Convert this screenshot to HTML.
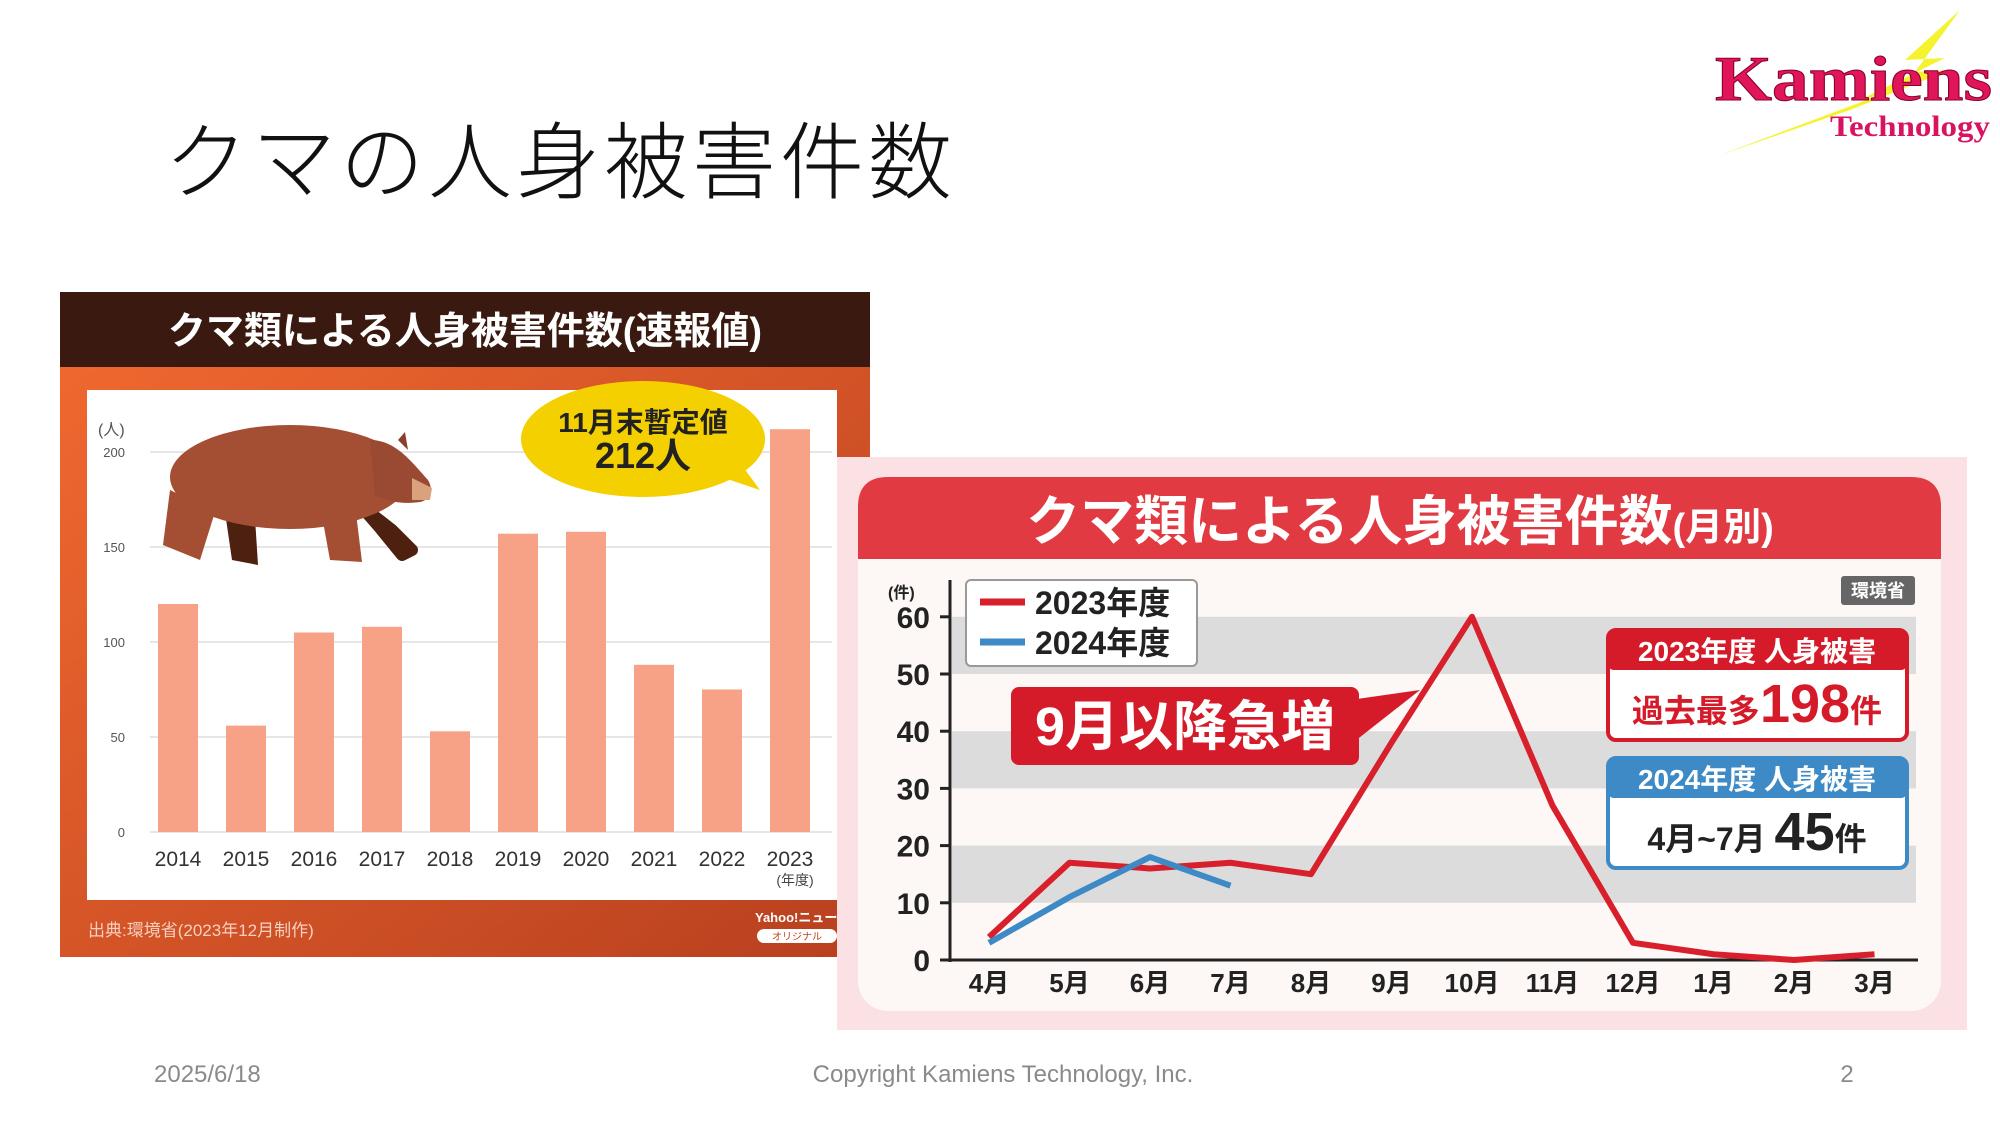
<!DOCTYPE html>
<html><head><meta charset="utf-8"><style>
html,body{margin:0;padding:0;background:#fff;}
svg{display:block;font-family:"Liberation Sans","Noto Sans CJK JP",sans-serif;}
</style></head><body>
<svg width="2000" height="1125" viewBox="0 0 2000 1125" xmlns="http://www.w3.org/2000/svg">
<text x="164" y="192" font-size="84" fill="#111" font-family="Liberation Sans,Noto Sans CJK JP,sans-serif" font-weight="300" letter-spacing="4">クマの人身被害件数</text>
<g>
<polygon points="1960,10 1905,60 1945,58 1860,100 1880,95 1720,155 1850,110 1830,118 1950,70 1915,72" fill="#f4f21a" opacity="0.9"/>
<text x="1715" y="100" font-size="64" font-weight="bold" font-family="Liberation Serif,serif" fill="#e0155a" stroke="#8a0030" stroke-width="1" textLength="277" lengthAdjust="spacingAndGlyphs">Kamiens</text>
<text x="1830" y="136" font-size="30" font-weight="bold" font-family="Liberation Serif,serif" fill="#d81462" textLength="160" lengthAdjust="spacingAndGlyphs">Technology</text>
</g>
<g id="left">
<defs><linearGradient id="og" x1="0" x2="1" y1="0" y2="1"><stop offset="0" stop-color="#f26a30"/><stop offset="1" stop-color="#b8401f"/></linearGradient></defs>
<rect x="60" y="292" width="810" height="665" fill="url(#og)"/>
<rect x="60" y="292" width="810" height="75" fill="#3a1a10"/>
<text x="465" y="344" font-size="38" font-weight="bold" fill="#fff" text-anchor="middle">クマ類による人身被害件数(速報値)</text>
<rect x="87" y="390" width="750" height="510" fill="#fff"/>
<text x="98" y="435" font-size="16" fill="#555">(人)</text>
<text x="88" y="936" font-size="17" fill="#f7d0c0">出典:環境省(2023年12月制作)</text>
<text x="755" y="922" font-size="13" font-weight="bold" fill="#fff">Yahoo!ニュース</text>
<rect x="757" y="929" width="80" height="14" rx="7" fill="#fff"/>
<text x="797" y="940" font-size="10" fill="#c04020" text-anchor="middle">オリジナル</text>
<g id="bgrid"></g><g id="bbars"></g>
<text x="795" y="885" font-size="14" fill="#444" text-anchor="middle">(年度)</text>
<g>
<path d="M225,512 L232,560 L258,565 L255,518 Z" fill="#4d2010"/>
<path d="M360,505 L392,530 L412,550 L402,555 L380,528 Z" fill="#4d2010" stroke="#4d2010" stroke-width="12" stroke-linejoin="round"/>
<ellipse cx="290" cy="477" rx="120" ry="52" fill="#a44e34"/>
<path d="M170,490 L163,545 L200,560 L215,512 Z" fill="#a44e34"/>
<path d="M320,505 L330,560 L362,562 L355,505 Z" fill="#a44e34"/>
<path d="M370,440 C395,440 410,460 428,480 C434,490 430,500 420,502 C400,505 385,500 375,495 Z" fill="#9a4a33"/>
<path d="M412,478 L432,488 L430,500 L412,500 Z" fill="#d9a27d"/>
<path d="M398,440 L405,432 L408,450 Z" fill="#8a4030"/>
</g>
<g>
<path d="M700,470 L760,490 L738,460 Z" fill="#f5d000"/>
<ellipse cx="643" cy="439" rx="122" ry="58" fill="#f5d000"/>
<text x="643" y="432" font-size="28" font-weight="bold" fill="#222" text-anchor="middle">11月末暫定値</text>
<text x="643" y="468" font-size="36" font-weight="bold" fill="#222" text-anchor="middle">212人</text>
</g>
</g>
<g id="right">
<rect x="837" y="457" width="1130" height="573" fill="#fbe1e4"/>
<rect x="858" y="477" width="1083" height="534" rx="30" fill="#fdf7f5"/>
<path d="M858,559 L858,507 Q858,477 888,477 L1911,477 Q1941,477 1941,507 L1941,559 Z" fill="#e23a42"/>
<text x="1400" y="540" font-size="54" font-weight="bold" fill="#fff" text-anchor="middle">クマ類による人身被害件数<tspan font-size="38">(月別)</tspan></text>
<g id="lgrid"></g>
<text x="888" y="598" font-size="16" font-weight="bold" fill="#222">(件)</text>
<rect x="1841" y="576" width="74" height="29" rx="3" fill="#666"/>
<text x="1878" y="597" font-size="18" font-weight="bold" fill="#fff" text-anchor="middle">環境省</text>
<g id="llines"></g>
<g>
<rect x="966" y="580" width="231" height="86" rx="5" fill="#fff" stroke="#999" stroke-width="2"/>
<line x1="980" y1="602" x2="1025" y2="602" stroke="#d8202d" stroke-width="7"/>
<text x="1035" y="614" font-size="32" font-weight="bold" fill="#222">2023年度</text>
<line x1="980" y1="642" x2="1025" y2="642" stroke="#3d8ac6" stroke-width="7"/>
<text x="1035" y="654" font-size="32" font-weight="bold" fill="#222">2024年度</text>
</g>
<g>
<path d="M1350,700 L1420,690 L1350,745 Z" fill="#d51b2a"/>
<rect x="1011" y="687" width="348" height="78" rx="8" fill="#d51b2a"/>
<text x="1185" y="745" font-size="54" font-weight="bold" fill="#fff" text-anchor="middle">9月以降急増</text>
</g>
<g>
<rect x="1608" y="630" width="299" height="110" rx="8" fill="#fff" stroke="#d51b2a" stroke-width="4"/>
<rect x="1608" y="630" width="299" height="40" rx="6" fill="#d51b2a"/>
<text x="1757" y="661" font-size="28" font-weight="bold" fill="#fff" text-anchor="middle">2023年度 人身被害</text>
<text x="1757" y="722" font-size="32" font-weight="bold" fill="#d51b2a" text-anchor="middle">過去最多<tspan font-size="54">198</tspan>件</text>
</g>
<g>
<rect x="1608" y="758" width="299" height="110" rx="8" fill="#fff" stroke="#3d8ac6" stroke-width="4"/>
<rect x="1608" y="758" width="299" height="40" rx="6" fill="#3d8ac6"/>
<text x="1757" y="789" font-size="28" font-weight="bold" fill="#fff" text-anchor="middle">2024年度 人身被害</text>
<text x="1757" y="850" font-size="32" font-weight="bold" fill="#222" text-anchor="middle">4月~7月 <tspan font-size="54">45</tspan>件</text>
</g>
</g>
<text x="154" y="1082" font-size="24" fill="#8a8a8a">2025/6/18</text>
<text x="1003" y="1082" font-size="24" fill="#8a8a8a" text-anchor="middle">Copyright Kamiens Technology, Inc.</text>
<text x="1847" y="1082" font-size="24" fill="#8a8a8a" text-anchor="middle">2</text>
</svg>
<script>
const years=["2014","2015","2016","2017","2018","2019","2020","2021","2022","2023"];
const counts=[120,56,105,108,53,157,158,88,75,212];
const barTicks=[0,50,100,150,200];
const months=["4月","5月","6月","7月","8月","9月","10月","11月","12月","1月","2月","3月"];
const s2023=[4,17,16,17,15,38,60,27,3,1,0,1];
const s2024=[3,11,18,13];
const lineTicks=[0,10,20,30,40,50,60];
const NS="http://www.w3.org/2000/svg";
function mk(t,a,p,txt){const e=document.createElementNS(NS,t);for(const k in a)e.setAttribute(k,a[k]);if(txt!=null)e.textContent=txt;p.appendChild(e);return e;}
const by=v=>832-v*1.9, bx=i=>178+i*68;
const bg=document.getElementById('bgrid'), bb=document.getElementById('bbars');
barTicks.forEach(t=>{mk('line',{x1:150,x2:832,y1:by(t),y2:by(t),stroke:'#e6e6e6','stroke-width':2},bg);
const l=mk('text',{x:125,y:by(t)+5,'font-size':13,fill:'#555','text-anchor':'end'},bg,String(t));

});
years.forEach((y,i)=>{const r=mk('rect',{x:bx(i)-20,y:by(counts[i]),width:40,height:counts[i]*1.9,fill:'#f7a286'},bb);


const l=mk('text',{x:bx(i),y:866,'font-size':21,fill:'#333','text-anchor':'middle'},bb,y);

});
const ly=v=>960-v*5.72, lx=i=>989+i*80.5;
const lg=document.getElementById('lgrid'), ll=document.getElementById('llines');
[10,30,50].forEach(t=>mk('rect',{x:952,y:ly(t+10),width:964,height:57.2,fill:'#dcdcdc'},lg));
mk('line',{x1:950,y1:580,x2:950,y2:962,stroke:'#222','stroke-width':3},lg);
mk('line',{x1:948,y1:960,x2:1918,y2:960,stroke:'#222','stroke-width':3},lg);
lineTicks.forEach(t=>{mk('line',{x1:940,x2:950,y1:ly(t),y2:ly(t),stroke:'#222','stroke-width':3},lg);
const l=mk('text',{x:930,y:ly(t)+11,'font-size':30,'font-weight':'bold',fill:'#222','text-anchor':'end'},lg,String(t));

});
months.forEach((m,i)=>{const l=mk('text',{x:lx(i),y:992,'font-size':26,'font-weight':'bold',fill:'#222','text-anchor':'middle'},lg,m);

});
const p23=mk('polyline',{points:s2023.map((v,i)=>lx(i)+','+ly(v)).join(' '),fill:'none',stroke:'#d8202d','stroke-width':6,'stroke-linejoin':'round'},ll);


const p24=mk('polyline',{points:s2024.map((v,i)=>lx(i)+','+ly(v)).join(' '),fill:'none',stroke:'#3d8ac6','stroke-width':6,'stroke-linejoin':'round'},ll);


</script>
</body></html>
